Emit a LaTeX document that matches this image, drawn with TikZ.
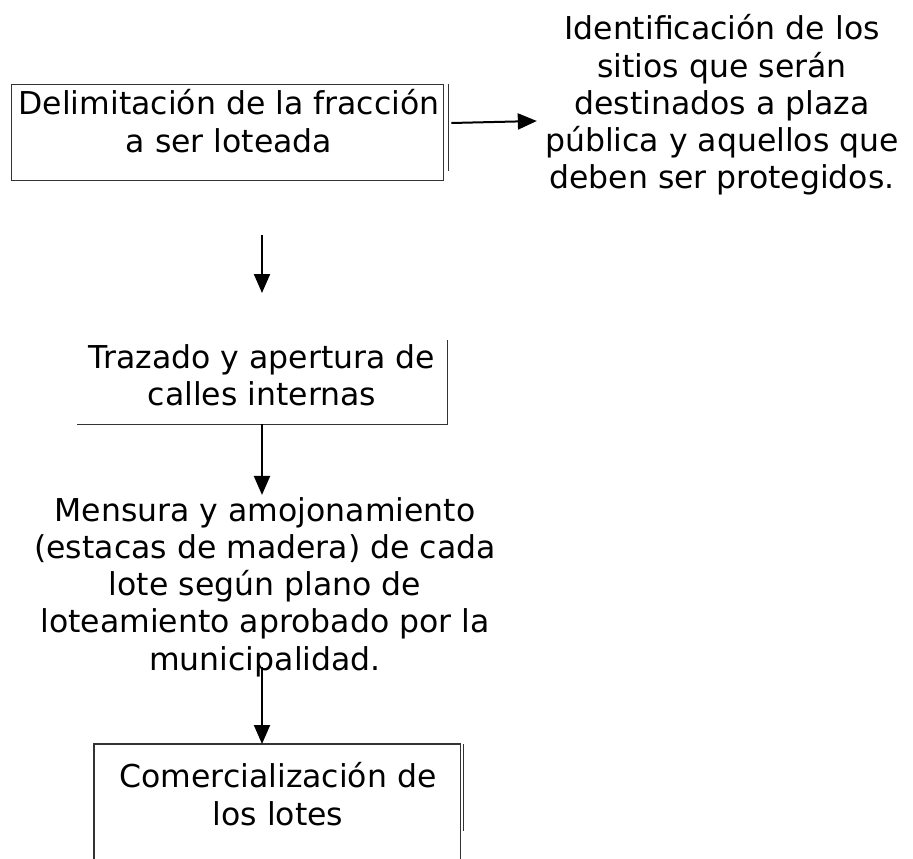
\documentclass[tikz,border=0pt]{standalone}
\usepackage{fontspec}
\setmainfont{DejaVu Sans}
\usetikzlibrary{arrows.meta,calc}
\begin{document}
\begin{tikzpicture}[x=1pt,y=-1pt,
  txt/.style={align=center,inner sep=0pt,font=\fontsize{31.5}{37.3}\selectfont},
  boxline/.style={draw=black!80,line width=1.3pt},
  arr/.style={draw=black,line width=2pt,-{Triangle[width=16pt,length=19pt]}},
  frame/.style={draw=none,inner sep=0pt,anchor=north west}]
\useasboundingbox (0,0) rectangle (913,859);
% box 1
\node[frame,boxline,draw=black!80,minimum width=432pt,minimum height=96pt] (box1) at (11,84) {};
\draw[boxline] ($(box1.north east)+(4,0)$) -- ($(box1.south east)+(4,-10)$);
\node[txt] (t1) at (229,121) {Delimitación de la fracción\\a ser loteada};
% right text
\node[txt] (t2) at (722,105) {Identificación de los\\sitios que serán\\destinados a plaza\\pública y aquellos que\\deben ser protegidos.};
% box 2
\node[frame,minimum width=370pt,minimum height=84pt] (box2) at (77,340) {};
\draw[boxline] (box2.south west) -- (box2.south east) -- (box2.north east);
\node[txt] (t3) at (262,375) {Trazado y apertura de\\calles internas};
% text 4
\node[txt] (t4) at (265,587) {Mensura y amojonamiento\\(estacas de madera) de cada\\lote según plano de\\loteamiento aprobado por la\\municipalidad.};
% box 4
\node[frame,minimum width=366pt,minimum height=115pt] (box4) at (94,744) {};
\draw[boxline] (box4.south west) -- (box4.north west) -- (box4.north east) -- (box4.south east);
\draw[boxline] ($(box4.north east)+(3,0)$) -- ($(box4.north east)+(3,87)$);
\node[txt] (t5) at (278,794) {Comercialización de\\los lotes};
% arrows
\coordinate (a2s) at (262,235);
\coordinate (a2e) at (262,293);
\draw[arr] ($(box1.north east)+(7,39)$) -- ($(t2.west)+(-8,16)$);
\draw[arr] (a2s) -- (a2e);
\draw[arr] (box2.south -| a2s) -- ($(t4.north -| a2s)+(0,-2)$);
\draw[arr] ($(t4.south -| a2s)+(0,-10)$) -- (box4.north -| a2s);
\end{tikzpicture}
\end{document}
